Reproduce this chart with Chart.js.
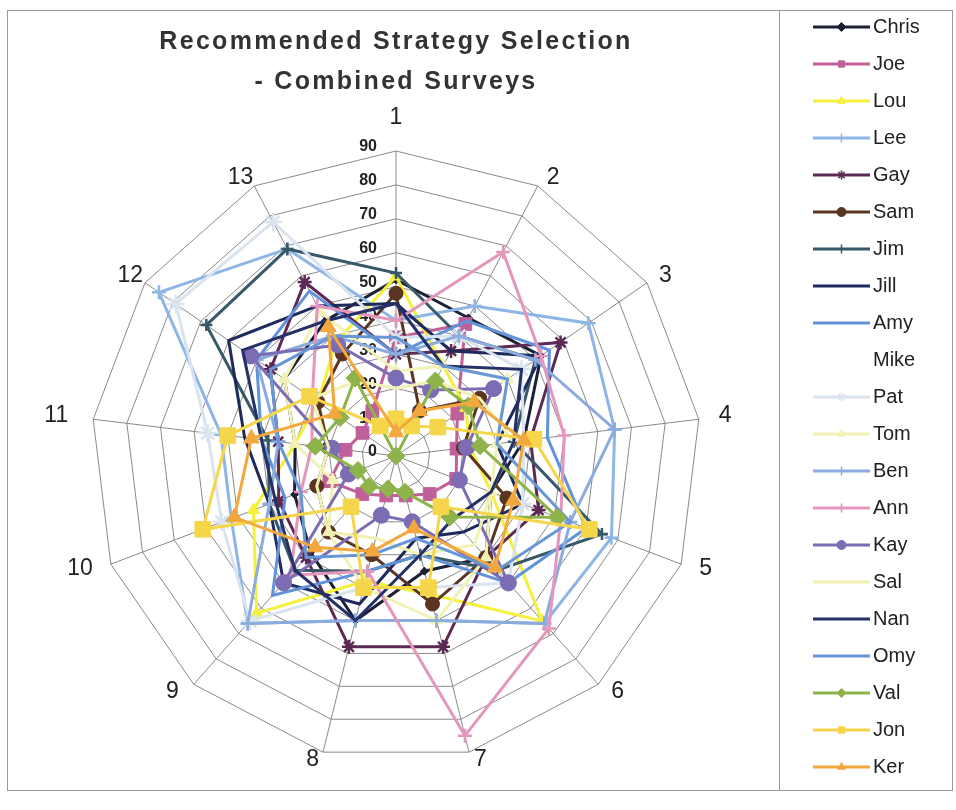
<!DOCTYPE html>
<html>
<head>
<meta charset="utf-8">
<script src="https://cdn.jsdelivr.net/npm/chart.js@4.4.0/dist/chart.umd.min.js"></script>
<style>
html,body{margin:0;padding:0;background:#fff;}
#wrap{position:absolute;left:0;top:0;width:956px;height:810px;}
</style>
</head>
<body>
<div id="wrap"><canvas id="c" width="956" height="810"></canvas></div>
<script>
// ---------- DATA ----------
const categories = ['1','2','3','4','5','6','7','8','9','10','11','12','13'];
const tickValues = [0,10,20,30,40,50,60,70,80,90];
const titleLines = ['Recommended Strategy Selection', '- Combined Surveys'];
const seriesNames = ['Chris','Joe','Lou','Lee','Gay','Sam','Jim','Jill','Amy','Mike','Pat','Tom','Ben','Ann','Kay','Sal','Nan','Omy','Val','Jon','Ker'];

const chris = [52, 46, 52, 38, 30, 40, 35, 50, 38, 32, 30, 40, 45];
const joe   = [35, 44, 22, 18, 19, 15, 12, 12, 15, 21, 15, 12, 15];
const lou   = [53, 30, 25, 22, 30, 65, 42, 38, 62, 45, 30, 28, 38];
const lee   = [40, 50, 69, 65, 68, 66, 50, 50, 66, 52, 52, 85, 69];
const gay   = [30, 35, 59, 40, 45, 40, 58, 58, 40, 37, 35, 45, 58];
const sam   = [48, 15, 30, 20, 35, 40, 45, 30, 30, 25, 20, 28, 34];
const jim   = [54, 40, 50, 35, 65, 45, 30, 35, 45, 40, 38, 68, 69];
const jill  = [45, 35, 52, 30, 40, 30, 25, 45, 50, 40, 45, 60, 50];
const amy   = [30, 45, 55, 45, 60, 50, 30, 35, 55, 35, 40, 50, 55];
const mike  = [20, 20, 20, 20, 20, 20, 20, 20, 20, 20, 20, 20, 20];
const pat   = [35, 40, 45, 38, 40, 50, 40, 40, 65, 55, 56, 79, 78];
const tom   = [25, 30, 40, 30, 30, 40, 50, 40, 30, 20, 30, 40, 48];
const ben   = [30, 40, 50, 65, 55, 66, 50, 50, 66, 40, 35, 50, 40];
const ann   = [40, 68, 52, 50, 52, 68, 85, 35, 47, 30, 25, 30, 50];
const kay   = [23, 22, 35, 21, 20, 50, 20, 18, 50, 15, 19, 52, 37];
const sal   = [20, 25, 30, 35, 30, 35, 30, 25, 30, 25, 20, 30, 25];
const nan   = [45, 30, 45, 35, 30, 25, 30, 50, 45, 38, 40, 55, 45];
const omy   = [35, 30, 40, 30, 55, 45, 25, 30, 40, 30, 35, 45, 40];
const val   = [0, 25, 26, 25, 51, 24, 11, 10, 12, 12, 24, 20, 26];
const jon   = [11, 10, 15, 41, 61, 20, 40, 40, 20, 61, 50, 31, 10];
const ker   = [7, 15, 28, 38, 37, 44, 22, 29, 36, 51, 43, 22, 43];

const seriesValues = [chris, joe, lou, lee, gay, sam, jim, jill, amy, mike, pat, tom, ben, ann, kay, sal, nan, omy, val, jon, ker];

// ---------- STYLES ----------
const seriesStyles = [
  {color:'#1c2036', marker:'rectRot', r:4},
  {color:'#c0609a', marker:'rect', r:9},
  {color:'#f4f03c', marker:'triangle', r:7},
  {color:'#8db6e6', marker:'cross', r:7},
  {color:'#5c2a55', marker:'star', r:7},
  {color:'#5a3522', marker:'circle', r:7},
  {color:'#365868', marker:'cross', r:6},
  {color:'#1f2a5c', marker:false, r:0},
  {color:'#6292d8', marker:false, r:0},
  {color:'rgba(0,0,0,0)', marker:false, r:0},
  {color:'#dae4ee', marker:'star', r:9},
  {color:'#f2f2b6', marker:'triangle', r:7},
  {color:'#8cacde', marker:'cross', r:7},
  {color:'#e496bd', marker:'cross', r:7},
  {color:'#7b6cb4', marker:'circle', r:8},
  {color:'#f1f1b4', marker:false, r:0},
  {color:'#243066', marker:false, r:0},
  {color:'#6897d8', marker:false, r:0},
  {color:'#8db34a', marker:'rectRot', r:9},
  {color:'#f5d64a', marker:'rect', r:11},
  {color:'#f2a83c', marker:'triangle', r:9}
];
// horizontal gap between each category label and its outer vertex
const labelGaps = [0, 9, 12, 20, 18, 13, 5, 4, 15, 18, 25, 2, 1];

const FONT = '"Liberation Sans", Arial, sans-serif';

const datasets = seriesNames.map((name, i) => {
  const s = seriesStyles[i];
  const stroked = (s.marker === 'cross' || s.marker === 'star' || s.marker === 'crossRot');
  return {
    label: name,
    data: seriesValues[i],
    borderColor: s.color,
    backgroundColor: s.color,
    borderWidth: 3,
    fill: false,
    tension: 0,
    pointStyle: s.marker || 'circle',
    pointRadius: s.marker ? s.r : 0,
    pointBackgroundColor: s.color,
    pointBorderColor: s.color,
    pointBorderWidth: stroked ? 2.5 : 1,
    order: seriesNames.length - i
  };
});

// legend icon: line with small marker
function legendIcon(i) {
  const s = seriesStyles[i];
  const cv = document.createElement('canvas');
  cv.width = 68; cv.height = 14;
  const g = cv.getContext('2d');
  if (i !== 9) {
    g.strokeStyle = s.color; g.lineWidth = 3;
    g.beginPath(); g.moveTo(11, 7); g.lineTo(68, 7); g.stroke();
    if (s.marker) {
      g.fillStyle = s.color; g.strokeStyle = s.color;
      const stroked = (s.marker === 'cross' || s.marker === 'star');
      g.lineWidth = stroked ? 1.5 : 1;
      Chart.helpers.drawPoint(g, {pointStyle: s.marker, radius: 4.5, rotation: 0, borderWidth: g.lineWidth}, 39.5, 7);
    }
  }
  return cv;
}
const legendIcons = seriesNames.map((n, i) => legendIcon(i));

const decorPlugin = {
  id: 'decor',
  beforeDraw(chart) {
    const ctx = chart.ctx;
    ctx.save();
    ctx.fillStyle = '#ffffff';
    ctx.fillRect(0, 0, chart.width, chart.height);
    ctx.strokeStyle = '#9a9a9a';
    ctx.lineWidth = 1;
    ctx.strokeRect(7.5, 10.5, 945, 780);
    ctx.beginPath(); ctx.moveTo(779.5, 10.5); ctx.lineTo(779.5, 790.5); ctx.stroke();
    ctx.restore();
    // letter-spaced title
    const tb = chart.titleBlock;
    if (tb && !tb._spaced) {
      const orig = tb.draw.bind(tb);
      tb.draw = function () {
        const c = this.ctx;
        c.save();
        try { c.letterSpacing = '2.3px'; } catch (e) {}
        orig();
        c.restore();
      };
      tb._spaced = true;
    }
  },
  beforeDatasetsDraw(chart) {
    const s = chart.scales.r;
    const ctx = chart.ctx;
    ctx.save();
    // value ticks on axis 1
    ctx.font = 'bold 16px ' + FONT;
    ctx.fillStyle = '#222';
    ctx.textAlign = 'right';
    ctx.textBaseline = 'middle';
    tickValues.forEach(v => {
      const p = s.getPointPositionForValue(0, v);
      ctx.fillText(String(v), p.x - 19, p.y - 4);
    });
    // category labels next to outer vertices
    ctx.font = '23px ' + FONT;
    ctx.fillStyle = '#222';
    const n = categories.length;
    categories.forEach((lab, i) => {
      const ang = i * 2 * Math.PI / n;
      const sn = Math.sin(ang), cs = Math.cos(ang);
      const v = s.getPointPosition(i, s.drawingArea);
      let x = v.x, y = v.y;
      if (Math.abs(sn) < 0.05) {
        ctx.textAlign = 'center';
        y = v.y - 33 * cs;
      } else {
        ctx.textAlign = sn > 0 ? 'left' : 'right';
        x = v.x + Math.sign(sn) * labelGaps[i];
        y = v.y + (cs > 0 ? -9 * Math.sqrt(cs) : 8 * Math.sqrt(-cs));
      }
      ctx.textBaseline = 'middle';
      ctx.fillText(lab, x, y);
    });
    ctx.restore();
  }
};

const cfg = {
  type: 'radar',
  data: { labels: categories, datasets: datasets },
  options: {
    responsive: false,
    animation: false,
    layout: { padding: { left: 0, right: 60, top: 0, bottom: 0 } },
    elements: { line: { tension: 0, fill: false } },
    scales: {
      r: {
        min: 0, max: 90,
        ticks: { stepSize: 10, display: false },
        grid: { color: '#8a8a8a', lineWidth: 1 },
        angleLines: { color: '#8a8a8a', lineWidth: 1 },
        pointLabels: { display: false }
      },
      spacer: {
        type: 'linear', position: 'bottom', display: true,
        ticks: { display: false }, grid: { display: false, drawTicks: false }, border: { display: false },
        afterFit: (sc) => { sc.height = 49; }
      }
    },
    plugins: {
      tooltip: { enabled: false },
      title: {
        display: true,
        fullSize: false,
        text: titleLines,
        color: '#333333',
        font: { size: 25, weight: 'bold', family: FONT, lineHeight: 1.6 },
        padding: { top: 22, bottom: 49 }
      },
      legend: {
        position: 'right',
        align: 'start',
        labels: {
          usePointStyle: true,
          pointStyleWidth: 54,
          padding: 17,
          color: '#222',
          font: { size: 20, family: FONT },
          generateLabels: (chart) => chart.data.datasets.map((ds, i) => ({
            text: ds.label,
            pointStyle: legendIcons[i],
            fillStyle: 'rgba(0,0,0,0)',
            strokeStyle: 'rgba(0,0,0,0)',
            lineWidth: 0,
            hidden: false,
            datasetIndex: i,
            fontColor: '#222'
          }))
        }
      }
    }
  },
  plugins: [decorPlugin]
};

const chart = new Chart(document.getElementById('c').getContext('2d'), cfg);
// align legend column to the legend frame
const wantLeft = 792;
const d = chart.legend.left - wantLeft;
if (Math.abs(d) > 0.25) {
  chart.config.options.layout.padding.right = 60 + d;
  chart.update();
}
</script>
</body>
</html>
